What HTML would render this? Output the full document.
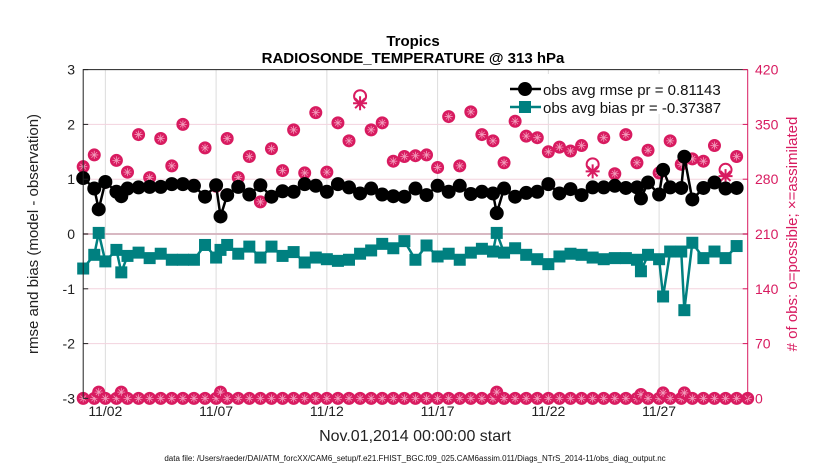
<!DOCTYPE html>
<html><head><meta charset="utf-8"><style>
body{margin:0;background:#fff;}
svg{display:block;font-family:"Liberation Sans",Arial,sans-serif;}
</style></head><body>
<svg id="chart" width="830" height="470" viewBox="0 0 830 470" xmlns="http://www.w3.org/2000/svg">
<rect x="0" y="0" width="830" height="470" fill="#fff"/>
<g id="grid"></g>
<g id="series"></g>
<g id="axes"></g>
<text x="413" y="46" text-anchor="middle" font-size="15" font-weight="bold" fill="#000">Tropics</text>
<text x="413" y="63" text-anchor="middle" font-size="15" font-weight="bold" fill="#000">RADIOSONDE_TEMPERATURE @ 313 hPa</text>
<text transform="translate(38,234) rotate(-90)" text-anchor="middle" font-size="15" fill="#222">rmse and bias (model - observation)</text>
<text transform="translate(797,234) rotate(-90)" text-anchor="middle" font-size="15" fill="#d81b60"># of obs: o=possible; ×=assimilated</text>
<text x="415" y="441" text-anchor="middle" font-size="16" fill="#222">Nov.01,2014 00:00:00 start</text>
<text x="415" y="461" text-anchor="middle" font-size="8" fill="#111">data file: /Users/raeder/DAI/ATM_forcXX/CAM6_setup/f.e21.FHIST_BGC.f09_025.CAM6assim.011/Diags_NTrS_2014-11/obs_diag_output.nc</text>
<g>
<rect x="505" y="74" width="238" height="40" fill="#fff"/>
<line x1="510" y1="89" x2="541" y2="89" stroke="#000" stroke-width="2.5"/>
<circle cx="525" cy="89" r="7" fill="#000"/>
<text x="543" y="95" font-size="15" fill="#111">obs avg rmse pr = 0.81143</text>
<line x1="510" y1="107" x2="541" y2="107" stroke="#008080" stroke-width="2.5"/>
<rect x="519" y="101" width="12" height="12" fill="#008080"/>
<text x="543" y="113" font-size="15" fill="#111">obs avg bias pr = -0.37387</text>
</g>
</svg>
<script>
const days     = [0,0.5,0.7,1,1.5,1.72,2,2.5,3,3.5,4,4.5,5,5.5,6,6.2,6.5,7,7.5,8,8.5,9,9.5,10,10.5,11,11.5,12,12.5,13,13.5,14,14.5,15,15.5,16,16.5,17,17.5,18,18.5,18.67,19,19.5,20,20.5,21,21.5,22,22.5,23,23.5,24,24.5,25,25.18,25.5,26,26.18,26.5,27,27.14,27.5,28,28.5,29,29.5];
const rmse     = [1.02,0.83,0.45,0.95,0.77,0.69,0.83,0.85,0.86,0.86,0.91,0.91,0.88,0.68,0.89,0.32,0.71,0.86,0.72,0.89,0.68,0.78,0.77,0.91,0.88,0.77,0.91,0.85,0.74,0.83,0.72,0.69,0.68,0.83,0.71,0.88,0.77,0.88,0.73,0.77,0.74,0.38,0.83,0.68,0.75,0.77,0.91,0.74,0.82,0.71,0.85,0.85,0.88,0.84,0.85,0.65,0.94,0.72,1.17,0.85,0.84,1.41,0.63,0.84,0.94,0.83,0.84];
const bias     = [-0.63,-0.38,0.02,-0.50,-0.29,-0.70,-0.40,-0.34,-0.44,-0.36,-0.47,-0.47,-0.47,-0.20,-0.43,-0.29,-0.20,-0.36,-0.23,-0.43,-0.23,-0.40,-0.33,-0.52,-0.43,-0.46,-0.49,-0.47,-0.36,-0.30,-0.18,-0.26,-0.13,-0.47,-0.21,-0.41,-0.36,-0.47,-0.34,-0.27,-0.32,0.02,-0.34,-0.26,-0.38,-0.46,-0.55,-0.41,-0.36,-0.38,-0.43,-0.46,-0.44,-0.44,-0.47,-0.68,-0.38,-0.46,-1.14,-0.32,-0.32,-1.39,-0.16,-0.44,-0.32,-0.44,-0.22];
const obsDays  = [0,0.5,1,1.5,2,2.5,3,3.5,4,4.5,5,5.5,6,6.5,7,7.5,8,8.5,9,9.5,10,10.5,11,11.5,12,12.5,13,13.5,14,14.5,15,15.5,16,16.5,17,17.5,18,18.5,19,19.5,20,20.5,21,21.5,22,22.5,23,23.5,24,24.5,25,25.5,26,26.5,27,27.5,28,28.5,29,29.5];
const possible = [296,311,276,304,289,337,282,332,297,350,272,320,271,332,282,309,251,319,291,343,288,365,289,352,329,386,343,352,303,309,310,311,295,360,297,366,337,329,301,354,335,333,315,321,316,323,299,333,287,337,301,317,288,329,299,306,303,323,292,309];
const assimilated = [296,311,276,304,289,335,282,332,297,350,272,320,271,332,282,309,251,319,291,343,288,365,289,352,329,377,343,352,303,309,310,311,295,360,297,366,337,329,301,354,335,333,315,321,316,323,290,331,287,337,301,317,288,329,299,306,303,323,284,309];
const lowDays  = [0,0.5,0.7,1,1.5,1.72,2,2.5,3,3.5,4,4.5,5,5.5,6,6.2,6.5,7,7.5,8,8.5,9,9.5,10,10.5,11,11.5,12,12.5,13,13.5,14,14.5,15,15.5,16,16.5,17,17.5,18,18.5,18.67,19,19.5,20,20.5,21,21.5,22,22.5,23,23.5,24,24.5,25,25.18,25.5,26,26.18,26.5,27,27.14,27.5,28,28.5,29,29.5,30];
const lowCount = [0,0,8,0,0,8,0,0,0,0,0,0,0,0,0,8,0,0,0,0,0,0,0,0,0,0,0,0,0,0,0,0,0,0,0,0,0,0,0,0,0,8,0,0,0,0,0,0,0,0,0,0,0,0,0,5,0,0,7,0,0,7,0,0,0,0,0,0];
const xTickDays = [1,6,11,16,21,26];
const xTickLabels = ["11/02","11/07","11/12","11/17","11/22","11/27"];
const yTicks = [-3,-2,-1,0,1,2,3];
const yRTicks = [0,70,140,210,280,350,420];

const X0=83.2, X1=747.7, Y0=398.4, Y1=69.6;
const xs = d => X0 + d*(X1-X0)/30;
const ys = v => Y0 - (v+3)*(Y0-Y1)/6;
const yr = n => Y0 - n*(Y0-Y1)/420;
const NS="http://www.w3.org/2000/svg";
const PINK="#d81b60";
function mk(tag, attrs, parent){const e=document.createElementNS(NS,tag);for(const k in attrs)e.setAttribute(k,attrs[k]);parent.appendChild(e);return e;}
const grid=document.getElementById('grid'), series=document.getElementById('series'), axes=document.getElementById('axes');

xTickDays.forEach((d,i)=>{
  const l=mk('line',{x1:xs(d),x2:xs(d),y1:Y1,y2:Y0,stroke:'#dcdcdc','stroke-width':1},grid);
  
  
  const t=mk('text',{x:xs(d),y:416,'text-anchor':'middle','font-size':14,fill:'#222'},axes);
  t.textContent=xTickLabels[i];
  
  
});
yRTicks.forEach(n=>{
  if(n===0||n===420) return;
  const l=mk('line',{x1:X0,x2:X1,y1:yr(n),y2:yr(n),stroke:'#f3d3de','stroke-width':1},grid);
  
  
});
const z=mk('line',{x1:X0,x2:X1,y1:ys(0),y2:ys(0),stroke:'#d8b8c2','stroke-width':2},grid);



// axes
const ax=mk('path',{d:`M${X0},${Y0}V${Y1}H${X1}`,fill:'none',stroke:'#222','stroke-width':1},axes);


const axr=mk('line',{x1:X1,x2:X1,y1:Y1,y2:Y0,stroke:PINK,'stroke-width':1},axes);


yTicks.forEach(v=>{
  const t=mk('text',{x:75,y:ys(v)+5,'text-anchor':'end','font-size':14,fill:'#222'},axes);
  t.textContent=String(v);
  
  
  const k=mk('line',{x1:X0,x2:X0+5,y1:ys(v),y2:ys(v),stroke:'#222'},axes);
  
  
});
yRTicks.forEach(n=>{
  const t=mk('text',{x:755,y:yr(n)+5,'font-size':14,fill:PINK},axes);
  t.textContent=String(n);
  
  
  const k=mk('line',{x1:X1-5,x2:X1,y1:yr(n),y2:yr(n),stroke:PINK},axes);
  
  
});

function star(cx,cy,r,parent,color,w){
  let d='';
  for(let a=0;a<4;a++){const an=a*Math.PI/4;d+=`M${cx-r*Math.cos(an)},${cy-r*Math.sin(an)}L${cx+r*Math.cos(an)},${cy+r*Math.sin(an)}`;}
  return mk('path',{d:d,stroke:color,'stroke-width':w,fill:'none'},parent);
}
// obs counts
function pinkDot(cx,cy,name){
  const c=mk('circle',{cx:cx,cy:cy,r:6.5,fill:PINK},series);
  
  
  const s=star(cx,cy,4,series,'#f39cbc',0.8);
  
  
}
lowDays.forEach((d,i)=>{ pinkDot(xs(d),yr(lowCount[i]),'obs-count-low'); });
obsDays.forEach((d,i)=>{
  if(Math.abs(possible[i]-assimilated[i])>2){
    const c=mk('circle',{cx:xs(d),cy:yr(possible[i]),r:6,fill:'none',stroke:PINK,'stroke-width':2},series);
    
    
    const s=star(xs(d),yr(assimilated[i]),7,series,PINK,2);
    
    
  } else {
    pinkDot(xs(d),yr(possible[i]),'obs-possible');
  }
});
// rmse
const rl=mk('polyline',{points:days.map((d,i)=>xs(d)+','+ys(rmse[i])).join(' '),fill:'none',stroke:'#000','stroke-width':2.5},series);


days.forEach((d,i)=>{
  const c=mk('circle',{cx:xs(d),cy:ys(rmse[i]),r:7,fill:'#000'},series);
  
  
});
// bias
const bl=mk('polyline',{points:days.map((d,i)=>xs(d)+','+ys(bias[i])).join(' '),fill:'none',stroke:'#008080','stroke-width':2.5},series);


days.forEach((d,i)=>{
  const r=mk('rect',{x:xs(d)-6,y:ys(bias[i])-6,width:12,height:12,fill:'#008080'},series);
  
  
});
</script>
</body></html>
